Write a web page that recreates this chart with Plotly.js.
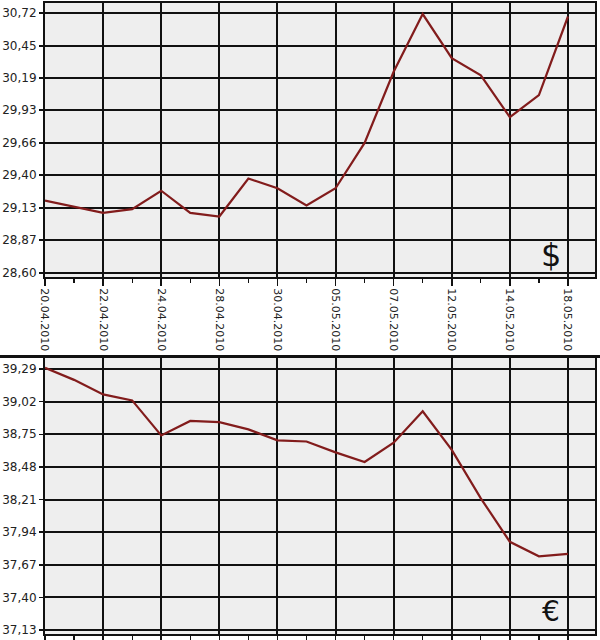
<!DOCTYPE html>
<html>
<head>
<meta charset="utf-8">
<script src="https://cdn.plot.ly/plotly-3.0.1.min.js"></script>
<style>
  html, body { margin: 0; padding: 0; background: #ffffff; }
  #chart { width: 600px; height: 640px; }
</style>
</head>
<body>
<div id="chart"></div>
<script>
// Trading dates (x categories)
const dates = [
  "20.04.2010", "21.04.2010", "22.04.2010", "23.04.2010", "24.04.2010",
  "27.04.2010", "28.04.2010", "29.04.2010", "30.04.2010", "01.05.2010",
  "05.05.2010", "06.05.2010", "07.05.2010", "08.05.2010", "12.05.2010",
  "13.05.2010", "14.05.2010", "15.05.2010", "18.05.2010"
];
// Labelled dates (every other one)
const labelEvery = 2;

// USD rate, RUB
const usd = [
  29.19, 29.14, 29.09, 29.12, 29.27,
  29.09, 29.06, 29.37, 29.29, 29.15,
  29.29, 29.66, 30.24, 30.71, 30.35,
  30.21, 29.87, 30.05, 30.69
];
// EUR rate, RUB
const eur = [
  39.30, 39.20, 39.08, 39.03, 38.74,
  38.86, 38.85, 38.79, 38.70, 38.69,
  38.60, 38.52, 38.68, 38.94, 38.62,
  38.22, 37.86, 37.74, 37.76
];

// Y tick values
const usdTicks = [28.60, 28.87, 29.13, 29.40, 29.66, 29.93, 30.19, 30.45, 30.72];
const eurTicks = [37.13, 37.40, 37.67, 37.94, 38.21, 38.48, 38.75, 39.02, 39.29];

const idx = dates.map((d, i) => i);
const majorIdx = idx.filter(i => i % labelEvery === 0);
const minorIdx = idx.filter(i => i % labelEvery !== 0);
const majorText = majorIdx.map(i => dates[i]);

const lineColor = '#821c1c';
const gridColor = '#111111';
const font = { family: 'DejaVu Sans, sans-serif', size: 12, color: '#222' };

const traces = [
  { x: idx, y: usd, xaxis: 'x', yaxis: 'y', type: 'scatter', mode: 'lines',
    line: { color: lineColor, width: 2.2 }, hoverinfo: 'skip' },
  { x: idx, y: eur, xaxis: 'x2', yaxis: 'y2', type: 'scatter', mode: 'lines',
    line: { color: lineColor, width: 2.2 }, hoverinfo: 'skip' }
];

const xBase = {
  range: [0, 18.93],
  tickmode: 'array',
  tickvals: majorIdx,
  ticks: 'outside', ticklen: 7, tickwidth: 1.5, tickcolor: '#111',
  showgrid: true, gridcolor: gridColor, gridwidth: 2,
  showline: true, linecolor: '#111', linewidth: 2, mirror: true,
  zeroline: false,
  minor: { tickmode: 'array', tickvals: minorIdx, ticks: 'outside', ticklen: 4,
           tickwidth: 1.3, tickcolor: '#111', showgrid: false },
  fixedrange: true
};

const yBase = {
  tickmode: 'array',
  tickformat: '.2f',
  ticks: 'outside', ticklen: 4, tickwidth: 1.5, tickcolor: '#111',
  showgrid: true, gridcolor: gridColor, gridwidth: 2,
  showline: true, linecolor: '#111', linewidth: 2, mirror: true,
  zeroline: false,
  tickfont: { family: 'DejaVu Sans, sans-serif', size: 12, color: '#222' },
  fixedrange: true
};

const layout = {
  width: 600, height: 640,
  margin: { l: 45, r: 5, t: 0, b: 0 },
  paper_bgcolor: '#ffffff',
  plot_bgcolor: '#eeeeee',
  separators: ', ',
  showlegend: false,
  font: font,
  xaxis: Object.assign({}, xBase, {
    anchor: 'y', domain: [0, 1],
    ticktext: majorText, showticklabels: true, tickangle: 90,
    tickfont: { family: 'DejaVu Sans, sans-serif', size: 11, color: '#222' }
  }),
  yaxis: Object.assign({}, yBase, {
    anchor: 'x', domain: [1 - 277 / 640, 1 - 3 / 640],
    range: [28.567, 30.80], tickvals: usdTicks
  }),
  xaxis2: Object.assign({}, xBase, {
    anchor: 'y2', domain: [0, 1], showticklabels: false, ticktext: majorText
  }),
  yaxis2: Object.assign({}, yBase, {
    anchor: 'x2', domain: [1 - 634 / 640, 1 - 358 / 640],
    range: [37.097, 39.381], tickvals: eurTicks
  }),
  shapes: [
    { type: 'line', xref: 'paper', yref: 'paper', x0: -45 / 550, x1: 1 + 5 / 550,
      y0: 1 - 356.5 / 640, y1: 1 - 356.5 / 640,
      line: { color: '#111', width: 3 } }
  ],
  annotations: [
    { text: '$', xref: 'x', yref: 'y', x: 17.4, y: 28.75, showarrow: false,
      font: { family: 'DejaVu Sans, sans-serif', size: 32, color: '#111' } },
    { text: '€', xref: 'x2', yref: 'y2', x: 17.4, y: 37.28, showarrow: false,
      font: { family: 'DejaVu Sans, sans-serif', size: 28, color: '#111' } }
  ]
};

Plotly.newPlot('chart', traces, layout, { staticPlot: true, displayModeBar: false });
</script>
</body>
</html>
